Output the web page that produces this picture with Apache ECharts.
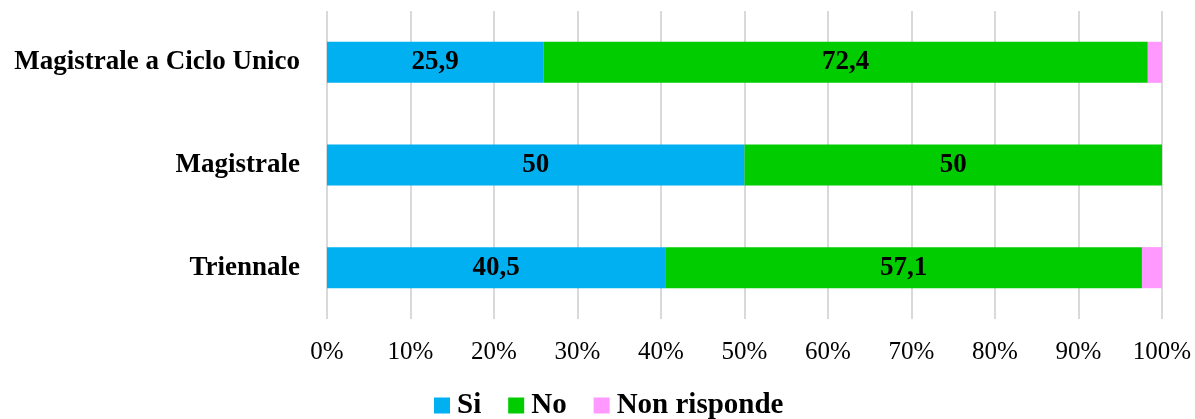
<!DOCTYPE html>
<html>
<head>
<meta charset="utf-8">
<script src="https://cdn.jsdelivr.net/npm/echarts@6/dist/echarts.min.js"></script>
<style>
  html, body { margin: 0; padding: 0; background: #fff; }
  #chart { width: 1195px; height: 419px; }
</style>
</head>
<body>
<div id="chart"></div>
<script>
// Degree types, listed bottom to top on the category axis
const categories = ['Triennale', 'Magistrale', 'Magistrale a Ciclo Unico'];
// Percentage of answers per degree type
const siValues = [40.5, 50, 25.9];
const noValues = [57.1, 50, 72.4];
const nonRispondeValues = [2.4, 0, 1.7];
const seriesNames = ['Si', 'No', 'Non risponde'];
const tickLabels = ['0%', '10%', '20%', '30%', '40%', '50%', '60%', '70%', '80%', '90%', '100%'];

const FONT = 'Liberation Serif';

const chart = echarts.init(document.getElementById('chart'), null, { renderer: 'canvas' });

// Italian decimal separator
function fmt(v) {
  return String(v).replace('.', ',');
}

const barLabel = {
  show: true,
  position: 'inside',
  color: '#000',
  fontFamily: FONT,
  fontWeight: 'bold',
  fontSize: 27,
  formatter: p => fmt(p.value)
};

chart.setOption({
  animation: false,
  grid: { left: 327, right: 33, top: 11, bottom: 100, containLabel: false },
  legend: {
    top: 386,
    left: 429,
    itemWidth: 16,
    itemHeight: 16,
    itemGap: 27,
    icon: 'rect',
    textStyle: { fontFamily: FONT, fontWeight: 'bold', fontSize: 29, color: '#000', padding: [0, 0, 0, 2] },
    data: seriesNames
  },
  xAxis: {
    type: 'value',
    min: 0,
    max: 100,
    interval: 10,
    axisLine: { show: false },
    axisTick: { show: false },
    splitLine: { show: true, lineStyle: { color: '#d9d9d9', width: 2 } },
    axisLabel: {
      margin: 21,
      fontFamily: FONT,
      fontSize: 25,
      color: '#000',
      formatter: v => tickLabels[Math.round(v / 10)]
    }
  },
  yAxis: {
    type: 'category',
    data: categories,
    axisLine: { show: false },
    axisTick: { show: false },
    axisLabel: {
      margin: 27,
      fontFamily: FONT,
      fontWeight: 'bold',
      fontSize: 27,
      color: '#000'
    }
  },
  series: [
    { name: seriesNames[0], type: 'bar', stack: 'total', barWidth: '40%', data: siValues,
      itemStyle: { color: '#00b0f0' }, label: barLabel },
    { name: seriesNames[1], type: 'bar', stack: 'total', barWidth: '40%', data: noValues,
      itemStyle: { color: '#00cc00' }, label: barLabel },
    { name: seriesNames[2], type: 'bar', stack: 'total', barWidth: '40%', data: nonRispondeValues,
      itemStyle: { color: '#ff99ff' }, label: { show: false } }
  ]
});
</script>
</body>
</html>
